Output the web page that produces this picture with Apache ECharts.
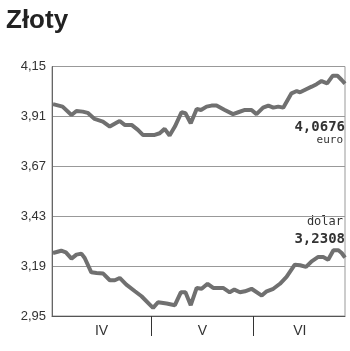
<!DOCTYPE html>
<html><head><meta charset="utf-8">
<script src="https://cdn.jsdelivr.net/npm/echarts@6/dist/echarts.min.js"></script>
<style>html,body{margin:0;padding:0;background:#fff}#c{width:350px;height:351px}</style>
</head><body><div id="c"></div>
<script>
// days since 1 April
const euroDays = [0.3,3.2,5.9,7.4,9.3,10.8,12.9,15.4,17.5,19.5,20.5,22.0,24.1,26.0,27.5,29.6,31.1,32.6,34.1,35.6,37.2,39.2,40.4,42.0,43.8,45.1,46.8,48.3,49.8,52.3,54.8,56.4,58.4,58.9,60.4,61.9,63.9,65.5,67.0,68.5,70.0,72.5,74.1,75.1,77.1,78.6,80.1,81.6,83.3,85.0,86.4,87.7,88.7];
const euroValues = [3.969,3.957,3.917,3.936,3.933,3.927,3.898,3.885,3.861,3.879,3.888,3.869,3.869,3.845,3.821,3.821,3.821,3.829,3.850,3.818,3.861,3.930,3.925,3.877,3.946,3.941,3.957,3.962,3.962,3.941,3.921,3.930,3.941,3.949,3.941,3.921,3.952,3.962,3.952,3.957,3.952,4.021,4.032,4.026,4.042,4.053,4.065,4.080,4.069,4.106,4.106,4.085,4.0676];
const dolarDays = [0.3,2.8,4.2,5.9,7.4,8.9,9.9,11.9,13.5,15.5,17.5,19.0,20.5,22.5,25.1,27.1,29.6,30.6,32.1,34.7,37.2,39.0,40.4,42.0,43.8,45.3,47.1,48.8,51.8,53.8,55.2,56.9,58.4,60.4,63.5,65.0,67.0,69.0,71.0,73.5,75.1,76.9,78.6,80.6,82.1,83.6,85.2,86.7,87.7,88.7];
const dolarValues = [3.253,3.264,3.256,3.226,3.245,3.250,3.229,3.160,3.157,3.154,3.122,3.122,3.133,3.101,3.069,3.045,3.005,2.989,3.016,3.010,3.002,3.064,3.064,3.002,3.085,3.081,3.105,3.085,3.085,3.064,3.077,3.064,3.069,3.081,3.048,3.069,3.081,3.105,3.138,3.197,3.194,3.186,3.213,3.234,3.234,3.221,3.266,3.266,3.253,3.2308];
const monthNames = ['IV','V','VI'];
const monthCenters = [15,45.5,75];
const monthBounds = [30,61];
const yTicks = [2.95,3.19,3.43,3.67,3.91,4.15];
const euroLast = '4,0676';
const dolarLast = '3,2308';

const chart = echarts.init(document.getElementById('c'));
const fmt = v => v.toFixed(2).replace('.', ',');
chart.setOption({
  animation:false,
  title:{text:'Złoty',left:1,top:3,textStyle:{fontFamily:'Liberation Sans',fontWeight:'bold',fontSize:26,color:'#222'}},
  grid:{left:52,right:5,top:66.5,bottom:35,show:true,borderColor:'#999',borderWidth:1},
  xAxis:{type:'value',min:0,max:88.7,
    axisLine:{show:true,lineStyle:{color:'#555',width:1}},
    splitLine:{show:false},
    axisTick:{show:true,customValues:monthBounds,length:20,lineStyle:{color:'#333',width:1}},
    axisLabel:{show:true,customValues:monthCenters,margin:8,fontFamily:'Liberation Sans',fontSize:14,color:'#333',
      formatter:v=>{const i=monthCenters.indexOf(v);return i>=0?monthNames[i]:'';}}
  },
  yAxis:{type:'value',min:2.95,max:4.15,interval:0.24,
    axisLine:{show:true,lineStyle:{color:'#666'}},
    axisTick:{show:false},
    splitLine:{show:true,lineStyle:{color:'#999',width:1}},
    axisLabel:{margin:6,fontFamily:'Liberation Sans',fontSize:13,color:'#333',formatter:v=>fmt(v)}
  },
  graphic:[
    {type:'text',right:5,top:120,style:{text:euroLast,font:'bold 14px "DejaVu Sans Mono"',fill:'#333',textAlign:'right'}},
    {type:'text',right:7,top:135,style:{text:'euro',font:'11px "DejaVu Sans Mono"',fill:'#333',textAlign:'right'}},
    {type:'text',right:7,top:216,style:{text:'dolar',font:'12px "DejaVu Sans Mono"',fill:'#333',textAlign:'right'}},
    {type:'text',right:5,top:232,style:{text:dolarLast,font:'bold 14px "DejaVu Sans Mono"',fill:'#333',textAlign:'right'}}
  ],
  series:[
    {type:'line',data:euroDays.map((d,i)=>[d,euroValues[i]]),showSymbol:false,lineStyle:{color:'#707070',width:4},z:3},
    {type:'line',data:dolarDays.map((d,i)=>[d,dolarValues[i]]),showSymbol:false,lineStyle:{color:'#707070',width:4},z:3}
  ]
});
</script></body></html>
